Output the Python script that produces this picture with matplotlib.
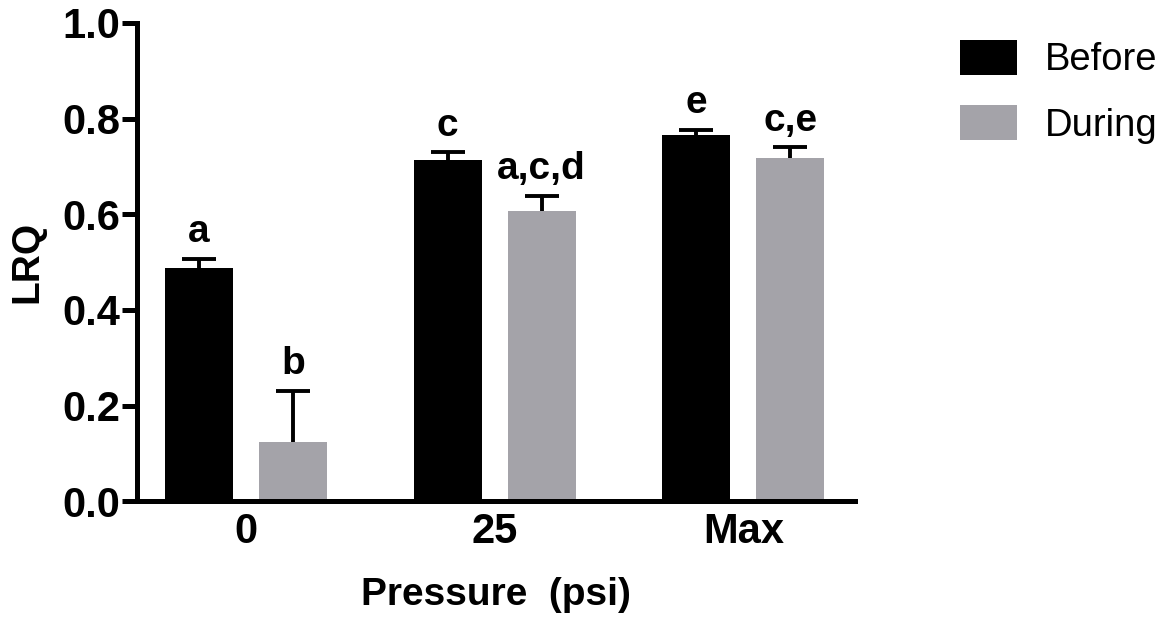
import matplotlib
matplotlib.use("Agg")
import matplotlib.pyplot as plt
import numpy as np

categories = ["0", "25", "Max"]
series_names = ["Before", "During"]
before_vals = [0.488, 0.714, 0.766]
before_err = [0.018, 0.015, 0.011]
during_vals = [0.123, 0.607, 0.718]
during_err = [0.108, 0.032, 0.022]
before_labels = ["a", "c", "e"]
during_labels = ["b", "a,c,d", "c,e"]

plt.rcParams['font.family'] = ['Liberation Sans', 'DejaVu Sans']

fig = plt.figure(figsize=(11.7, 6.18), dpi=100)
ax = fig.add_axes([0.117, 0.189, 0.614, 0.774])

x = np.arange(len(categories))
w = 0.274
off = 0.189
colors = ["#000000", "#a4a3a9"]

for vals, errs, labs, sign, col, name in [
    (before_vals, before_err, before_labels, -1, colors[0], series_names[0]),
    (during_vals, during_err, during_labels, 1, colors[1], series_names[1]),
]:
    xs = x + sign * off
    vals = np.asarray(vals)
    errs = np.asarray(errs)
    ax.bar(xs, vals, width=w, color=col, label=name, zorder=2)
    eb = ax.errorbar(xs, vals, yerr=[np.zeros(len(vals)), errs], fmt='none',
                     ecolor='black', elinewidth=2.8, capsize=12, capthick=2.8, zorder=3)
    for cl in eb[1]:
        if np.allclose(cl.get_ydata(), vals):
            cl.set_visible(False)
    for xi, v, e, t in zip(xs, vals, errs, labs):
        ax.annotate(t, (xi, v + e), xytext=(0, 12), textcoords='offset points',
                    ha='center', va='baseline', fontsize=28, fontweight='bold')

ax.set_xlim(-0.439, 2.45)
ax.set_ylim(0, 1.0)
ax.set_yticks([0.0, 0.2, 0.4, 0.6, 0.8, 1.0])
ax.set_yticklabels(["0.0", "0.2", "0.4", "0.6", "0.8", "1.0"])
ax.set_xticks(x)
ax.set_xticklabels(categories)

for s in ['top', 'right']:
    ax.spines[s].set_visible(False)
for s in ['left', 'bottom']:
    ax.spines[s].set_linewidth(3.6)
ax.tick_params(axis='y', length=11, width=3.6, labelsize=30, pad=1)
ax.tick_params(axis='x', length=0, labelsize=30, pad=8)
for lab in ax.get_yticklabels() + ax.get_xticklabels():
    lab.set_fontweight('bold')

ax.set_xlabel("Pressure  (psi)", fontsize=28, fontweight='bold', labelpad=18)
ax.set_ylabel("LRQ", fontsize=28, fontweight='bold', labelpad=12)

leg = fig.legend(loc='upper left', bbox_to_anchor=(0.8075, 0.96), frameon=False,
                 fontsize=27.5, handlelength=1.5, handleheight=1.02,
                 handletextpad=0.72, labelspacing=0.7, borderaxespad=0)

fig.savefig("out.png", dpi=100)
